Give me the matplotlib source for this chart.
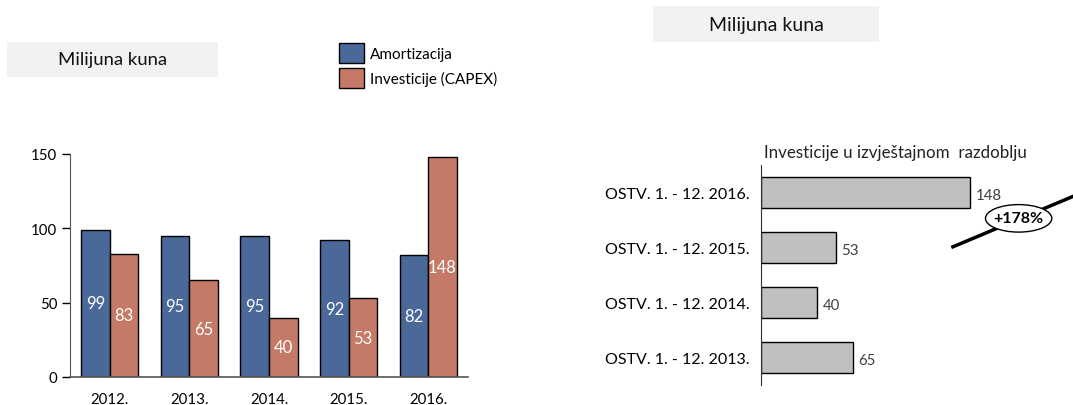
import numpy as np
import matplotlib
matplotlib.use("Agg")
import matplotlib.pyplot as plt
from matplotlib.patches import Ellipse, Rectangle

plt.rcParams['font.family'] = ['Lato', 'DejaVu Sans']

# data
years = ["2012.", "2013.", "2014.", "2015.", "2016."]
amortizacija = [99, 95, 95, 92, 82]
capex = [83, 65, 40, 53, 148]

periods = ["OSTV. 1. - 12. 2016.", "OSTV. 1. - 12. 2015.",
           "OSTV. 1. - 12. 2014.", "OSTV. 1. - 12. 2013."]
investicije = [148, 53, 40, 65]
growth_label = "+178%"

blue = "#4A6898"
orange = "#C47A66"
grey_bar = "#C0C0C0"
box_grey = "#F2F2F2"

W, H = 1073, 406
fig = plt.figure(figsize=(W / 100, H / 100), dpi=100)

def fx(px):
    return px / W

def fy(py):
    return 1 - py / H

# header boxes
for x0, x1, y0, y1, fs in [(7, 218, 43, 78, 13.3), (653, 879, 7, 43, 14)]:
    fig.patches.append(Rectangle((fx(x0), fy(y1)), fx(x1) - fx(x0), fy(y0) - fy(y1),
                                 transform=fig.transFigure, facecolor=box_grey,
                                 edgecolor="none", zorder=0))
    fig.text(fx((x0 + x1) / 2), fy((y0 + y1) / 2), "Milijuna kuna", ha="center",
             va="center", fontsize=fs, color="#111111")

# left chart
ax = fig.add_axes([fx(70), fy(378), fx(468) - fx(70), fy(155) - fy(378)])
x = np.arange(len(years))
w = 0.36
b1 = ax.bar(x - w / 2, amortizacija, w, color=blue, edgecolor="black", linewidth=1,
            label="Amortizacija")
b2 = ax.bar(x + w / 2, capex, w, color=orange, edgecolor="black", linewidth=1,
            label="Investicije (CAPEX)")
for bars, vals in [(b1, amortizacija), (b2, capex)]:
    for r, v in zip(bars, vals):
        ax.text(r.get_x() + r.get_width() / 2, v / 2, str(v), ha="center", va="center",
                color="white", fontsize=12)
ax.set_xlim(-0.5, len(years) - 0.5)
ax.set_ylim(0, 150)
ax.set_yticks([0, 50, 100, 150])
ax.set_xticks(x)
ax.set_xticklabels(years)
ax.tick_params(axis="x", length=0, pad=11, labelsize=10.8)
ax.tick_params(axis="y", length=6, width=1, labelsize=10.8, pad=3)
for s in ["top", "right"]:
    ax.spines[s].set_visible(False)
ax.spines["left"].set_color("#555555")
ax.spines["bottom"].set_color("#555555")
ax.spines["bottom"].set_linewidth(1.2)

# legend
leg = fig.legend(handles=[b1, b2], loc="upper left",
                 bbox_to_anchor=(fx(333), fy(38)), frameon=False, fontsize=11,
                 handlelength=1.6, handleheight=1.6, handletextpad=0.4,
                 labelspacing=0.35, borderaxespad=0)

# right chart
ax2 = fig.add_axes([fx(761), fy(386), fx(1073) - fx(761), fy(166) - fy(386)])
y = np.arange(len(periods))
hb = ax2.barh(y, investicije, 0.565, color=grey_bar, edgecolor="black", linewidth=1)
for v, yy in zip(investicije, y):
    ax2.text(v + 4, yy + 0.05, str(v), ha="left", va="center", fontsize=10.8,
             color="#404040")
ax2.set_xlim(0, 221)
ax2.set_ylim(len(periods) - 0.5, -0.5)
ax2.set_yticks(y)
ax2.set_yticklabels(periods)
ax2.set_xticks([])
ax2.tick_params(axis="y", length=0, pad=8, labelsize=11.5)
for s in ["top", "right", "bottom"]:
    ax2.spines[s].set_visible(False)
ax2.spines["left"].set_color("#333333")
ax2.set_title("Investicije u izvještajnom  razdoblju", loc="left", fontsize=12.2,
              pad=6, color="#222222", x=0.01)

# growth marker
ax2.plot([134.8, 222], [1.0, 0.06], color="black", linewidth=2.5, clip_on=False,
         zorder=3, solid_capstyle="butt")
ax2.add_patch(Ellipse((182.5, 0.47), 47, 0.5, facecolor="white", edgecolor="black",
                      linewidth=1, zorder=4, clip_on=False))
ax2.text(182.5, 0.47, growth_label, ha="center", va="center", fontsize=11.5,
         fontweight="bold", zorder=5)

fig.savefig("out.png", dpi=100)
